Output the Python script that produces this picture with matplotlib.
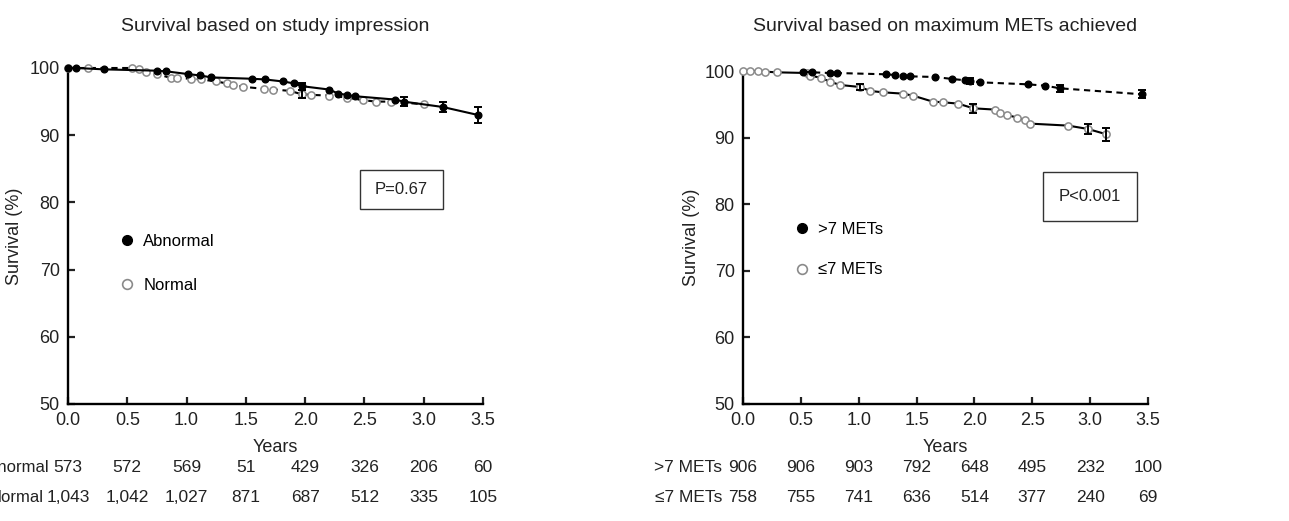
import matplotlib
matplotlib.use("Agg")
import matplotlib.pyplot as plt
import matplotlib.transforms as mtransforms
from matplotlib.patches import Rectangle
from matplotlib.lines import Line2D

plt.rcParams['font.family'] = ['Liberation Sans', 'DejaVu Sans']

# ---- left panel: study impression ----
abn_t = [0.0, 0.07, 0.3, 0.75, 0.83, 1.01, 1.11, 1.21, 1.55, 1.66, 1.81, 1.91, 1.97,
         2.2, 2.28, 2.35, 2.42, 2.76, 2.83, 3.16, 3.46]
abn_s = [100, 100, 99.8, 99.6, 99.5, 99.1, 98.9, 98.6, 98.4, 98.3, 98.0, 97.7, 97.3,
         96.8, 96.2, 96.0, 95.8, 95.3, 95.0, 94.2, 93.0]
abn_err_t = [1.97, 2.83, 3.16, 3.46]
abn_err_s = [97.3, 95.0, 94.2, 93.0]
abn_err = [0.5, 0.7, 0.7, 1.2]

nor_t = [0.0, 0.17, 0.54, 0.6, 0.66, 0.75, 0.87, 0.92, 1.04, 1.12, 1.25, 1.34, 1.39,
         1.48, 1.65, 1.73, 1.87, 1.97, 2.05, 2.2, 2.35, 2.49, 2.6, 2.72, 3.0]
nor_s = [100, 100, 100, 99.8, 99.4, 99.1, 98.5, 98.5, 98.4, 98.3, 98.0, 97.7, 97.5,
         97.2, 96.9, 96.8, 96.6, 96.1, 96.0, 95.9, 95.6, 95.2, 95.0, 95.0, 94.6]
nor_err_t = [1.97]
nor_err_s = [96.1]
nor_err = [0.6]

# ---- right panel: maximum METs ----
hi_t = [0.52, 0.6, 0.75, 0.81, 1.24, 1.31, 1.38, 1.44, 1.66, 1.81, 1.92, 1.96,
        2.05, 2.46, 2.61, 2.74, 3.45]
hi_s = [99.9, 99.8, 99.7, 99.7, 99.5, 99.4, 99.3, 99.2, 99.1, 98.8, 98.6, 98.5,
        98.3, 98.0, 97.8, 97.4, 96.5]
hi_err_t = [1.96, 2.74, 3.45]
hi_err_s = [98.5, 97.4, 96.5]
hi_err = [0.4, 0.5, 0.6]

lo_t = [0.0, 0.06, 0.13, 0.19, 0.29, 0.55, 0.58, 0.67, 0.75, 0.84, 1.01, 1.1, 1.21,
        1.38, 1.47, 1.64, 1.73, 1.86, 1.99, 2.18, 2.22, 2.28, 2.37, 2.44, 2.48, 2.81,
        2.98, 3.14]
lo_s = [100, 100, 100, 99.9, 99.8, 99.7, 99.3, 99.0, 98.4, 97.9, 97.6, 97.0, 96.8,
        96.6, 96.3, 95.4, 95.3, 95.1, 94.4, 94.2, 93.7, 93.4, 93.0, 92.6, 92.1, 91.8,
        91.3, 90.5]
lo_err_t = [1.01, 1.99, 2.98, 3.14]
lo_err_s = [97.6, 94.4, 91.3, 90.5]
lo_err = [0.5, 0.7, 0.8, 1.0]

years = [0.0, 0.5, 1.0, 1.5, 2.0, 2.5, 3.0, 3.5]
risk_abn = ['573', '572', '569', '51', '429', '326', '206', '60']
risk_nor = ['1,043', '1,042', '1,027', '871', '687', '512', '335', '105']
risk_hi = ['906', '906', '903', '792', '648', '495', '232', '100']
risk_lo = ['758', '755', '741', '636', '514', '377', '240', '69']

GRAY = '#8a8a8a'
TXT = '#222222'
W, H = 1289, 521


def style_axes(ax):
    ax.set_xlim(0, 3.5)
    ax.set_ylim(50, 100)
    ax.set_xticks(years)
    ax.set_xticklabels(['%.1f' % y for y in years])
    ax.set_yticks([50, 60, 70, 80, 90, 100])
    for s in ['top', 'right']:
        ax.spines[s].set_visible(False)
    for s in ['left', 'bottom']:
        ax.spines[s].set_linewidth(1.7)
    ax.tick_params(direction='in', length=5, width=1.6, labelsize=13, pad=6,
                   colors=TXT)
    ax.set_xlabel('Years', fontsize=13, color=TXT)
    ax.set_ylabel('Survival (%)', fontsize=13, color=TXT)


def draw_curve(ax, t, s, et, es, ee, filled, dashed):
    ls = (0, (3, 2.2)) if dashed else '-'
    if filled:
        ax.plot(t, s, ls=ls, color='black', lw=1.5, marker='o', ms=4.8,
                mfc='black', mec='black', clip_on=False, zorder=3)
    else:
        ax.plot(t, s, ls=ls, color='black', lw=1.5, marker='o', ms=5.2,
                mfc='white', mec=GRAY, mew=1.1, clip_on=False, zorder=3)
    ax.errorbar(et, es, yerr=ee, fmt='none', ecolor='black', elinewidth=1.4,
                capsize=3, capthick=1.4, clip_on=False, zorder=4)


def risk_rows(ax, fig, labels, rows, label_x, label_ha, label_size):
    tr = mtransforms.blended_transform_factory(ax.transData, fig.transFigure)
    ys = [1 - 468 / H, 1 - 497 / H]
    for lab, row, y, lx in zip(labels, rows, ys, label_x):
        fig.text(lx / W, y, lab, ha=label_ha, va='center', fontsize=label_size,
                 color=TXT)
        for x, v in zip(years, row):
            ax.text(x, y, v, transform=tr, ha='center', va='center',
                    fontsize=12.5, color=TXT, clip_on=False)


fig = plt.figure(figsize=(W / 100, H / 100), dpi=100)
ax1 = fig.add_axes([68 / W, 1 - 404 / H, (483 - 68) / W, (404 - 68) / H])
ax2 = fig.add_axes([743 / W, 1 - 404 / H, (1148 - 743) / W, (404 - 71) / H])

# left
style_axes(ax1)
draw_curve(ax1, nor_t, nor_s, nor_err_t, nor_err_s, nor_err, False, True)
draw_curve(ax1, abn_t, abn_s, abn_err_t, abn_err_s, abn_err, True, False)
ax1.set_title('Survival based on study impression', fontsize=14, pad=26.5,
              color=TXT)
ax1.yaxis.set_label_coords(-0.108, 0.5)
ax1.xaxis.set_label_coords(0.5, -0.105)
ax1.add_patch(Rectangle((0.704, 0.580), 0.200, 0.116, transform=ax1.transAxes,
                        fill=False, ec='#333333', lw=1.0))
ax1.text(0.804, 0.638, 'P=0.67', transform=ax1.transAxes, ha='center',
         va='center', fontsize=12, color=TXT)
h1 = [Line2D([], [], ls='none', marker='o', ms=7, mfc='black', mec='black'),
      Line2D([], [], ls='none', marker='o', ms=7, mfc='white', mec=GRAY, mew=1.2)]
ax1.legend(h1, ['Abnormal', 'Normal'], loc='upper left',
           bbox_to_anchor=(0.125, 0.505), frameon=False, fontsize=12,
           handlelength=0.8, handletextpad=0.6, labelspacing=1.7,
           borderpad=0, borderaxespad=0)
risk_rows(ax1, fig, ['Abnormal', 'Normal'], [risk_abn, risk_nor],
          [50, 44], 'right', 12)

# right
style_axes(ax2)
draw_curve(ax2, lo_t, lo_s, lo_err_t, lo_err_s, lo_err, False, False)
draw_curve(ax2, hi_t, hi_s, hi_err_t, hi_err_s, hi_err, True, True)
ax2.set_title('Survival based on maximum METs achieved', fontsize=14, pad=28.5,
              color=TXT)
ax2.yaxis.set_label_coords(-0.106, 0.5)
ax2.xaxis.set_label_coords(0.5, -0.105)
ax2.add_patch(Rectangle((0.741, 0.550), 0.232, 0.147, transform=ax2.transAxes,
                        fill=False, ec='#333333', lw=1.0))
ax2.text(0.857, 0.624, 'P<0.001', transform=ax2.transAxes, ha='center',
         va='center', fontsize=12, color=TXT)
h2 = [Line2D([], [], ls='none', marker='o', ms=7, mfc='black', mec='black'),
      Line2D([], [], ls='none', marker='o', ms=7, mfc='white', mec=GRAY, mew=1.2)]
ax2.legend(h2, ['>7 METs', '\u22647 METs'], loc='upper left',
           bbox_to_anchor=(0.128, 0.548), frameon=False, fontsize=12,
           handlelength=0.8, handletextpad=0.6, labelspacing=1.55,
           borderpad=0, borderaxespad=0)
risk_rows(ax2, fig, ['>7 METs', '\u22647 METs'], [risk_hi, risk_lo],
          [722, 722], 'right', 12.5)

fig.savefig('out.png', dpi=100)
